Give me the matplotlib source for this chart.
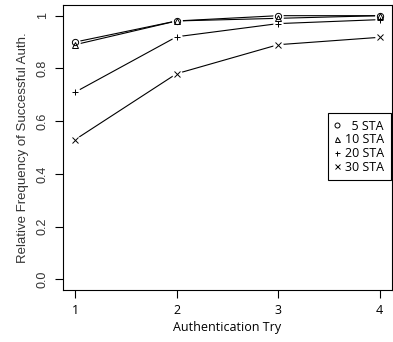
import matplotlib.pyplot as plt

tries = [1, 2, 3, 4]
sta5 = [0.90, 0.98, 1.00, 1.00]
sta10 = [0.89, 0.98, 0.99, 1.00]
sta20 = [0.71, 0.92, 0.97, 0.985]
sta30 = [0.53, 0.78, 0.89, 0.918]
labels = ['  5 STA', '10 STA', '20 STA', '30 STA']
markers = ['o', '^', '+', 'x']

fig = plt.figure(figsize=(3.93, 3.42), dpi=100)
ax = fig.add_axes([0.160, 0.152, 0.837, 0.833])

series = [sta5, sta10, sta20, sta30]
# lines first, then a white patch behind each point (R type="b" gaps), then markers
for ys in series:
    ax.plot(tries, ys, color='black', lw=0.8, zorder=1)
for ys in series:
    ax.plot(tries, ys, ls='none', marker='o', ms=7.5, mfc='white', mec='none', zorder=2)
handles = []
for ys, m, lab in zip(series, markers, labels):
    h, = ax.plot(tries, ys, ls='none', marker=m, ms=4.5, mfc='none', mec='black',
                 mew=0.7, zorder=3, label=lab)
    handles.append(h)

ax.set_xlim(0.88, 4.12)
ax.set_ylim(-0.04, 1.04)
ax.set_xticks(tries)
ax.set_yticks([0.0, 0.2, 0.4, 0.6, 0.8, 1.0])
ax.set_yticklabels(['0.0', '0.2', '0.4', '0.6', '0.8', '1'], rotation=90,
                   va='center', family='Liberation Sans', fontsize=9, color='#333333')
ax.set_xticklabels(['1', '2', '3', '4'], family='Open Sans', fontsize=9)
ax.tick_params(direction='out', length=6, width=0.8, pad=4)
ax.set_ylabel('Relative Frequency of Successful Auth.', family='Liberation Sans',
              fontsize=9.5, color='#333333', labelpad=6)
ax.set_xlabel('Authentication Try', family='Open Sans', fontsize=9, labelpad=3)
for s in ax.spines.values():
    s.set_linewidth(0.8)

leg = ax.legend(handles=handles, loc='upper right', bbox_to_anchor=(0.997, 0.62),
                borderaxespad=0, frameon=True, fancybox=False, edgecolor='black',
                framealpha=1, prop={'family': 'Open Sans', 'size': 9}, handlelength=0.5,
                handletextpad=0.4, labelspacing=0.05, borderpad=0.5, markerscale=0.8)
leg.get_frame().set_linewidth(0.8)

plt.savefig('out.png', dpi=100)
